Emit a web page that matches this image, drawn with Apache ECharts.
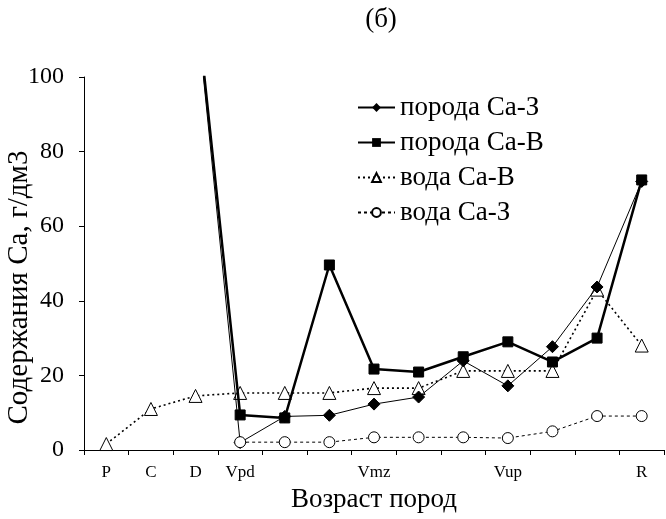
<!DOCTYPE html>
<html>
<head>
<meta charset="utf-8">
<script src="https://cdn.jsdelivr.net/npm/echarts@6/dist/echarts.min.js"></script>
<style>
html,body{margin:0;padding:0;background:#fff;}
#c{width:666px;height:519px;}
</style>
</head>
<body>
<div id="c"></div>
<script>
var categories = ['P', 'C', 'D', 'Vpd', '', '', 'Vmz', '', '', 'Vup', '', '', 'R'];
var porodaCaZ = [null, null, 121, 2, 9, 9.3, 12.3, 14.2, 23.9, 17.2, 27.7, 43.7, 72];
var porodaCaV = [null, null, 122.5, 9.4, 8.6, 49.6, 21.7, 20.9, 25, 29, 23.6, 30, 72.4];
var vodaCaV = [1.6, 11, 14.5, 15.3, 15.3, 15.3, 16.6, 16.6, 21.2, 21.2, 21.2, 43, 28];
var vodaCaZ = [null, null, null, 2.1, 2.1, 2.1, 3.4, 3.4, 3.4, 3.2, 5, 9.1, 9.1];
var yTicks = [0, 20, 40, 60, 80, 100];

var FONT = 'Liberation Serif';
var chart = echarts.init(document.getElementById('c'), null, {renderer: 'canvas'});
chart.setOption({
  animation: false,
  backgroundColor: '#fff',
  title: {
    text: '(б)',
    left: 376,
    top: 1,
    textAlign: 'center',
    textStyle: {fontFamily: FONT, fontSize: 27, fontWeight: 'normal', color: '#000'}
  },
  legend: {
    orient: 'vertical',
    left: 352,
    top: 89,
    itemWidth: 37,
    itemHeight: 11,
    itemGap: 8,
    textStyle: {fontFamily: FONT, fontSize: 27, color: '#000'},
    data: ['порода Са-З', 'порода Са-В', 'вода Са-В', 'вода Са-З']
  },
  grid: {left: 84, right: 2, top: 77, bottom: 69, containLabel: false, outerBoundsMode: 'none'},
  xAxis: {
    type: 'category',
    data: categories,
    boundaryGap: true,
    name: 'Возраст пород',
    nameLocation: 'middle',
    nameGap: 36,
    nameMoveOverlap: false,
    nameTextStyle: {fontFamily: FONT, fontSize: 27, color: '#000'},
    axisLine: {show: true, lineStyle: {color: '#000', width: 1}},
    axisTick: {show: true, alignWithLabel: false, interval: 0, length: 5, lineStyle: {color: '#000'}},
    axisLabel: {interval: 0, margin: 14, fontFamily: FONT, fontSize: 17, color: '#000'},
    splitLine: {show: false}
  },
  yAxis: {
    type: 'value',
    min: yTicks[0],
    max: yTicks[yTicks.length - 1],
    interval: yTicks[1] - yTicks[0],
    name: 'Содержания Са, г/дм3',
    nameLocation: 'middle',
    nameRotate: 90,
    nameGap: 50,
    nameMoveOverlap: false,
    nameTextStyle: {fontFamily: FONT, fontSize: 29, color: '#000', padding: [0, 48, 0, 0]},
    axisLine: {show: true, lineStyle: {color: '#000', width: 1}},
    axisTick: {show: true, length: 5, lineStyle: {color: '#000'}},
    axisLabel: {margin: 20, fontFamily: FONT, fontSize: 24, color: '#000'},
    splitLine: {show: false}
  },
  series: [
    {
      name: 'вода Са-В',
      type: 'line',
      data: vodaCaV,
      clip: true,
      symbol: 'triangle',
      symbolSize: 13,
      itemStyle: {color: '#fff', borderColor: '#000', borderWidth: 1},
      lineStyle: {color: '#000', width: 1.6, type: [2, 3]},
      z: 2
    },
    {
      name: 'вода Са-З',
      type: 'line',
      data: vodaCaZ,
      clip: true,
      symbol: 'circle',
      symbolSize: 11,
      itemStyle: {color: '#fff', borderColor: '#000', borderWidth: 1},
      lineStyle: {color: '#000', width: 1, type: [3, 3]},
      z: 5
    },
    {
      name: 'порода Са-З',
      type: 'line',
      data: porodaCaZ,
      clip: true,
      symbol: 'diamond',
      symbolSize: 12,
      itemStyle: {color: '#000', borderColor: '#000'},
      lineStyle: {color: '#000', width: 1},
      z: 3
    },
    {
      name: 'порода Са-В',
      type: 'line',
      data: porodaCaV,
      clip: true,
      symbol: 'rect',
      symbolSize: 10,
      itemStyle: {color: '#000', borderColor: '#000'},
      lineStyle: {color: '#000', width: 2.5},
      z: 4
    }
  ]
});
</script>
</body>
</html>
